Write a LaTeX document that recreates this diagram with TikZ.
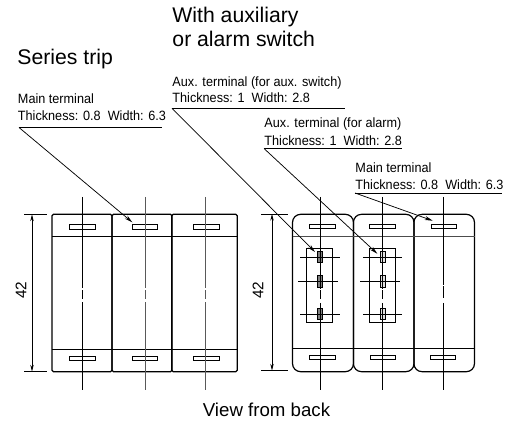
\documentclass[tikz,border=0pt]{standalone}
\usepackage{fontspec}
\usetikzlibrary{arrows.meta}
\setmainfont{Liberation Sans}
\newfontfamily\notefont[FakeStretch=0.94]{Liberation Sans}
\begin{document}
\begin{tikzpicture}[x=0.75pt,y=-0.75pt,line width=0.7pt]
        \tikzstyle{title}=[anchor=base west, inner sep=0pt, font=\fontsize{15.9}{18}\selectfont]
        \tikzstyle{note}=[anchor=base west, inner sep=0pt, font=\notefont\fontsize{10.1}{12}\selectfont]
        \tikzstyle{slot}=[rectangle, draw, inner sep=0pt, minimum width=19pt, minimum height=3.2pt]
        \tikzstyle{panel}=[rectangle, draw, inner sep=0pt, line width=0.9pt, minimum height=118pt, rounded corners=1pt]
        \tikzstyle{roundpanel}=[panel, rounded corners=6pt]
        \tikzstyle{auxbox}=[rectangle, draw, inner sep=0pt, minimum width=19.5pt, minimum height=55pt]
        \tikzstyle{auxterm}=[rectangle, draw, inner sep=0pt, minimum width=3.6pt, minimum height=8.6pt]
        \tikzstyle{leader}=[-{Stealth[length=6pt,width=3pt]}, line width=0.55pt]
        \tikzstyle{dim}=[{Stealth[length=5pt,width=2.6pt]}-{Stealth[length=5pt,width=2.6pt]}, line width=0.55pt]
        \useasboundingbox (0,0) rectangle (520,423);

        % left breaker
        \node[panel, minimum width=45pt] (P1) at (82,293) {};
        \node[panel, minimum width=45pt] (P2) at (142,293) {};
        \node[panel, minimum width=49pt] (P3) at (204.5,293) {};
        \coordinate (H1) at (52,236);
        \coordinate (H2) at (237,236);
        \coordinate (F1) at (52,349);
        \coordinate (F2) at (237,349);
        \draw (H1) -- (H2);
        \draw (F1) -- (F2);

        \node[slot] (S1) at (82.5,227) {};
        \node[slot] (S2) at (145,227) {};
        \node[slot] (S3) at (206.5,227) {};
        \node[slot] (S4) at (82.5,358.5) {};
        \node[slot] (S5) at (145,358.5) {};
        \node[slot] (S6) at (206.5,358.5) {};

        \draw (82.5,197) -- (82.5,288.5) (82.5,290.5) -- (82.5,299.5) (82.5,302.5) -- (82.5,390);
        \draw[gray!70!black] (145,197) -- (145,288.5) (145,290.5) -- (145,299.5) (145,302.5) -- (145,390);
        \draw[gray!70!black] (205.5,197) -- (205.5,288.5) (205.5,290.5) -- (205.5,299.5) (205.5,302.5) -- (205.5,390);

        % right breaker
        \node[roundpanel, minimum width=45.7pt] (R1) at (323,293) {};
        \node[roundpanel, minimum width=45.4pt] (R2) at (383.7,293) {};
        \node[roundpanel, minimum width=45.4pt] (R3) at (444.2,293) {};
        \coordinate (H3) at (292.5,236.7);
        \coordinate (H4) at (474.5,236.7);
        \coordinate (F3) at (292.5,348.3);
        \coordinate (F4) at (474.5,348.3);
        \draw[line width=1pt, black!70] (H3) -- (H4);
        \draw (F3) -- (F4);

        \node[slot] (S7) at (322.5,226.6) {};
        \node[slot] (S8) at (382.5,226.6) {};
        \node[slot] (S9) at (444,226.6) {};
        \node[slot] (S10) at (322.5,357.8) {};
        \node[slot] (S11) at (383,357.8) {};
        \node[slot] (S12) at (443.2,357.8) {};

        \node[auxbox] (B1) at (319.8,285.5) {};
        \node[auxbox] (B2) at (382.5,285.5) {};
        \node[auxterm, fill=black!50] (T1) at (320.2,257) {};
        \node[auxterm, fill=black!50] (T2) at (320.2,281.5) {};
        \node[auxterm, fill=black!50] (T3) at (320.2,314.2) {};
        \node[auxterm, fill=black!12] (T4) at (382.7,257) {};
        \node[auxterm, fill=black!12] (T5) at (382.7,281.5) {};
        \node[auxterm, fill=black!12] (T6) at (382.7,314.2) {};

        \draw (300.3,257) -- (340,257) (298,281.3) -- (337.7,281.3) (300.3,314.3) -- (340,314.3);
        \draw (363,257) -- (402.3,257) (360.3,281.3) -- (400.3,281.3) (363,314.3) -- (402.3,314.3);
        \draw (320,197) -- (320,289) (320,290.5) -- (320,299.5) (320,303) -- (320,390);
        \draw (382.3,197) -- (382.3,289) (382.3,290.5) -- (382.3,299.5) (382.3,303) -- (382.3,390);
        \draw (443,197) -- (443,285) (443,286.5) -- (443,298.5) (443,303) -- (443,390);

        % dimensions
        \coordinate (D1) at (32,214.5);
        \coordinate (D2) at (32,371.5);
        \coordinate (D3) at (272,214);
        \coordinate (D4) at (272,370.5);
        \draw (24,214.5) -- (47,214.5) (24,371.5) -- (47,371.5);
        \draw (261,214) -- (288,214) (261,370.5) -- (288,370.5);
        \draw[dim] (D1) -- (D2);
        \draw[dim] (D3) -- (D4);
        \node[rotate=90, inner sep=0pt, font=\fontsize{11.5}{13}\selectfont] (L1) at (21,290) {42};
        \node[rotate=90, inner sep=0pt, font=\fontsize{11.5}{13}\selectfont] (L2) at (258,290) {42};

        % titles
        \node[title] (T) at (17,64.5) {Series trip};
        \node[title] (W) at (172,23) {With auxiliary};
        \node[title] (O) at (172,47) {or alarm switch};
        \node[anchor=base, inner sep=0pt, font=\fontsize{14}{16}\selectfont] (V) at (266.5,416.7) {View from back};

        % leaders
        \node[note] (N1) at (17.5,104) {Main terminal};
        \node[note] (N2) at (17.5,121) {Thickness: 0.8\ \ Width: 6.3};
        \node[note] (N3) at (172,86.7) {Aux. terminal (for aux. switch)};
        \node[note] (N4) at (172,102.7) {Thickness: 1\ \ Width: 2.8};
        \node[note] (N5) at (264,127.7) {Aux. terminal (for alarm)};
        \node[note] (N6) at (264,146) {Thickness: 1\ \ Width: 2.8};
        \node[note] (N7) at (355,172.7) {Main terminal};
        \node[note] (N8) at (355,190) {Thickness: 0.8\ \ Width: 6.3};

        \coordinate (A1) at (19,127.5);
        \coordinate (A2) at (161.5,127.5);
        \coordinate (A3) at (172,108.3);
        \coordinate (A4) at (345,108.3);
        \coordinate (A5) at (264,148.5);
        \coordinate (A6) at (401.5,148.5);
        \coordinate (A7) at (355,193);
        \coordinate (A8) at (502,193);
        \coordinate (E1) at (132.3,222.3);
        \coordinate (E2) at (315,252);
        \coordinate (E3) at (377.3,253.7);
        \coordinate (E4) at (432.7,220.7);
        \draw (A1) -- (A2);
        \draw (A3) -- (A4);
        \draw (A5) -- (A6);
        \draw (A7) -- (A8);
        \draw[leader] (A1) -- (E1);
        \draw[leader] (A3) -- (E2);
        \draw[leader] (A5) -- (E3);
        \draw[leader] (A7) -- (E4);
\end{tikzpicture}
\end{document}
